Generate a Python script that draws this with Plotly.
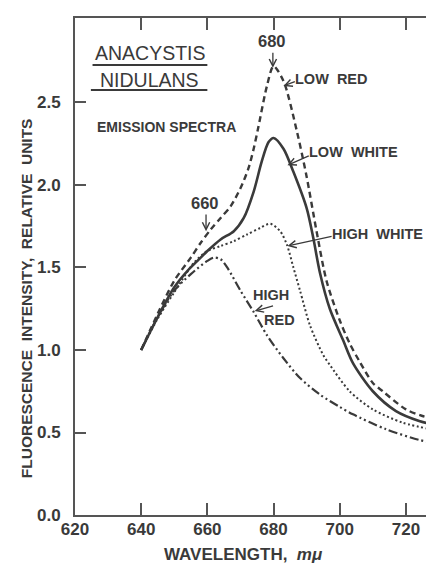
import plotly.graph_objects as go

# ---- data ----
low_red_x = [640, 645, 650, 655, 658, 661, 664, 667, 670, 672.4, 674, 675.4, 678, 680, 683, 687, 690, 693, 696, 700, 703, 706, 710, 713, 720, 725, 730]
low_red_y = [1.00, 1.22, 1.42, 1.56, 1.65, 1.73, 1.80, 1.87, 1.98, 2.10, 2.22, 2.35, 2.60, 2.72, 2.63, 2.33, 2.05, 1.72, 1.42, 1.18, 1.04, 0.93, 0.80, 0.75, 0.64, 0.60, 0.575]

low_white_x = [640, 645, 650, 654, 657, 660, 664, 668, 671, 674, 676.4, 678.5, 680, 683, 686, 690, 692, 694, 697, 701, 704, 710, 717, 724, 730]
low_white_y = [1.00, 1.20, 1.38, 1.48, 1.54, 1.60, 1.67, 1.72, 1.80, 1.96, 2.14, 2.26, 2.285, 2.22, 2.08, 1.86, 1.68, 1.47, 1.25, 1.06, 0.92, 0.75, 0.63, 0.57, 0.54]

high_white_x = [640, 645, 650, 656, 660, 664, 668, 672, 676, 679, 682, 684, 686, 688, 691, 695, 697, 703, 710, 719, 730]
high_white_y = [1.00, 1.19, 1.35, 1.53, 1.60, 1.63, 1.66, 1.70, 1.74, 1.765, 1.72, 1.64, 1.50, 1.36, 1.15, 0.97, 0.91, 0.75, 0.64, 0.56, 0.51]

high_red_x = [640, 645, 650, 655, 660, 662, 664, 666, 670, 674, 678, 683, 688, 694, 700, 704, 714, 724, 730]
high_red_y = [1.00, 1.20, 1.36, 1.46, 1.54, 1.56, 1.55, 1.50, 1.36, 1.23, 1.09, 0.95, 0.83, 0.73, 0.655, 0.61, 0.52, 0.455, 0.43]

x_ticks = [620, 640, 660, 680, 700, 720]
y_ticks = [0.0, 0.5, 1.0, 1.5, 2.0, 2.5]
y_tick_labels = ["0.0", "0.5", "1.0", "1.5", "2.0", "2.5"]

INK = "#3a3a3a"
FONT = "Liberation Sans"

fig = go.Figure()

def add_curve(x, y, dash, width):
    fig.add_trace(go.Scatter(
        x=x, y=y, mode="lines",
        line=dict(color=INK, width=width, dash=dash, shape="spline", smoothing=0.8),
        showlegend=False, hoverinfo="skip"))

add_curve(high_red_x, high_red_y, "9px,3px,2px,3px,2px,3px", 2.2)
add_curve(high_white_x, high_white_y, "2px,2.5px", 2.0)
add_curve(low_white_x, low_white_y, "solid", 2.6)
add_curve(low_red_x, low_red_y, "6px,4px", 2.4)

ann = []
def text(x, y, s, size=14, xanchor="center", xref="x", yref="y", angle=0, bold=True, xshift=0):
    ann.append(dict(x=x, y=y, xref=xref, yref=yref, text=s, showarrow=False,
                    xanchor=xanchor, yanchor="middle", textangle=angle, xshift=xshift,
                    font=dict(family=FONT, size=size, color=INK,
                              weight="bold" if bold else "normal")))

def arrow(x0, y0, x1, y1):
    ann.append(dict(x=x1, y=y1, ax=x0, ay=y0, xref="x", yref="y", axref="x", ayref="y",
                    text="", showarrow=True, arrowhead=5, arrowsize=1.1, arrowwidth=1.3,
                    arrowcolor=INK, standoff=0, startstandoff=0))

text(642.9, 2.80, "ANACYSTIS", size=19.5, bold=False)
text(642.4, 2.636, "NIDULANS", size=19.5, bold=False)
text(647.8, 2.35, "EMISSION SPECTRA", size=14, bold=True)

text(679.6, 2.87, "680", size=16.5)
arrow(679.8, 2.81, 679.8, 2.71)
text(659.4, 1.89, "660", size=16.5)
arrow(659.6, 1.83, 659.6, 1.72)

text(686.9, 2.64, "LOW &nbsp;RED", size=14.5, xanchor="left", xshift=-3)
arrow(686.9, 2.63, 683.0, 2.60)
text(691.1, 2.20, "LOW &nbsp;WHITE", size=14.5, xanchor="left", xshift=-3)
arrow(691.1, 2.18, 684.2, 2.12)
text(698.0, 1.70, "HIGH &nbsp;WHITE", size=14.5, xanchor="left", xshift=-3)
arrow(698.0, 1.69, 684.2, 1.63)
text(679.1, 1.333, "HIGH", size=14.5)
text(681.8, 1.18, "RED", size=14.5)
arrow(680.3, 1.27, 674.3, 1.236)

text(-0.134, 0.4366, "FLUORESCENCE  INTENSITY,  RELATIVE  UNITS", size=15.5,
     xref="paper", yref="paper", angle=-90)
text(0.462, -0.08, "WAVELENGTH, &nbsp;<i>mμ</i>", size=17,
     xref="paper", yref="paper")

shapes = [
    dict(type="line", xref="x", yref="y", x0=625.3, x1=660.0, y0=2.727, y1=2.727,
         line=dict(color=INK, width=2)),
    dict(type="line", xref="x", yref="y", x0=624.8, x1=660.0, y0=2.576, y1=2.576,
         line=dict(color=INK, width=2)),
]

fig.update_layout(
    width=434, height=564,
    margin=dict(l=67, r=1, t=10, b=57),
    paper_bgcolor="white", plot_bgcolor="white",
    annotations=ann, shapes=shapes,
    font=dict(family=FONT, color=INK),
)
fig.update_xaxes(range=[620, 730], tickvals=x_ticks, ticks="inside", ticklen=12, tickwidth=2,
                 tickcolor="#555", showline=True, linecolor="#555", linewidth=2, mirror="ticks",
                 showgrid=False, zeroline=False, ticklabelstandoff=-2,
                 tickfont=dict(family=FONT, size=17, color=INK, weight="bold"))
fig.update_yaxes(range=[0, 3.012], tickvals=y_ticks, ticktext=y_tick_labels, ticks="inside",
                 ticklen=11, tickwidth=2, tickcolor="#555", showline=True, linecolor="#555",
                 linewidth=2, mirror="ticks", showgrid=False, zeroline=False, ticklabelstandoff=9,
                 tickfont=dict(family=FONT, size=17, color=INK, weight="bold"))

fig.write_html("out.html")
